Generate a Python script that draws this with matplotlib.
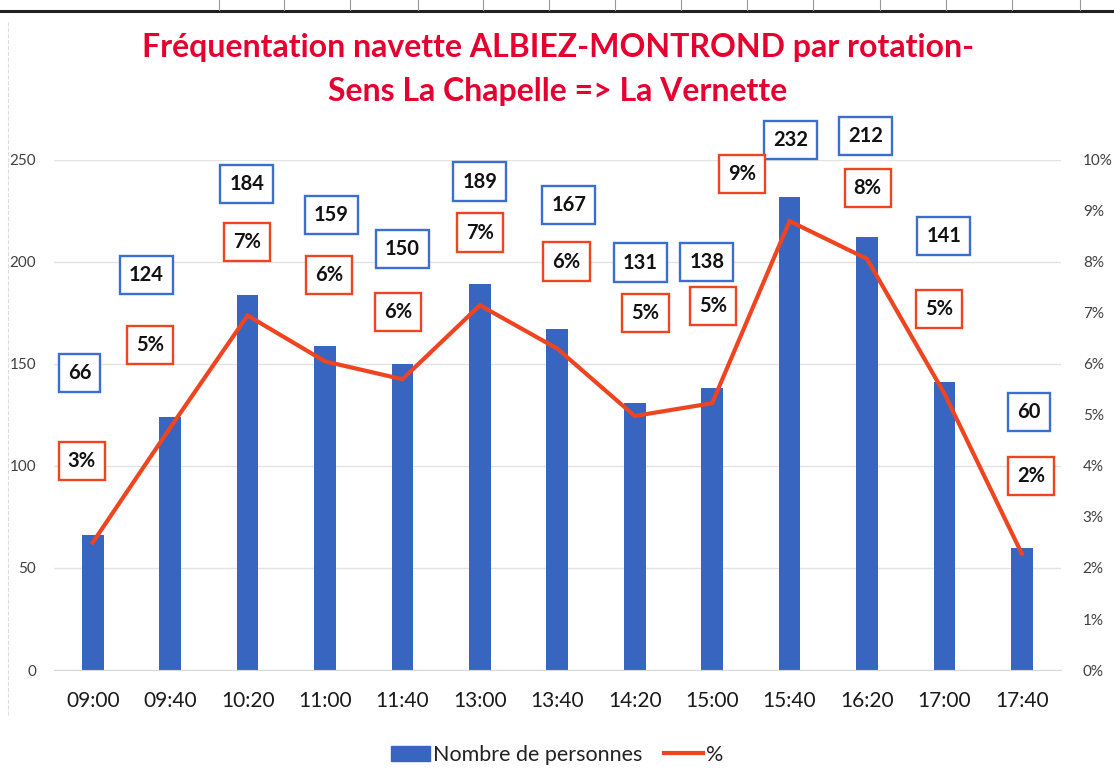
import numpy as np
import matplotlib.pyplot as plt
from matplotlib.lines import Line2D
from matplotlib.patches import Patch

plt.rcParams['font.family'] = ['Lato', 'DejaVu Sans']

# data
horaires = ['09:00', '09:40', '10:20', '11:00', '11:40', '13:00', '13:40',
            '14:20', '15:00', '15:40', '16:20', '17:00', '17:40']
personnes = [66, 124, 184, 159, 150, 189, 167, 131, 138, 232, 212, 141, 60]
pourcent = [2.5, 4.75, 6.95, 6.05, 5.7, 7.15, 6.3, 4.98, 5.23, 8.8, 8.06, 5.42, 2.28]
pourcent_labels = ['3%', '5%', '7%', '6%', '6%', '7%', '6%', '5%', '5%', '9%', '8%', '5%', '2%']

# where the (hand moved) data labels sit, in left axis units
count_dx = [-0.17, -0.31, -0.01, 0.08, 0.0, 0.0, 0.15, 0.07, -0.07, 0.01, -0.02, -0.01, 0.09]
count_y = [145.4, 193.6, 238.2, 223.0, 206.4, 239.4, 228.0, 199.7, 199.9, 259.8, 261.8, 212.7, 126.5]
pct_dx = [-0.14, -0.26, -0.01, 0.05, -0.06, 0.0, 0.12, 0.14, 0.01, -0.61, 0.01, -0.07, 0.12]
pct_y = [102.5, 159.3, 209.7, 193.6, 175.6, 214.4, 200.2, 175.1, 178.4, 243.0, 236.4, 177.0, 95.0]

BAR_COLOR = '#3765C0'
LINE_COLOR = '#EF4420'
TITLE_COLOR = '#E6002F'

fig = plt.figure(figsize=(11.14, 7.8), dpi=100)
ax = fig.add_axes([0.0485, 0.141, 0.9035, 0.654])
ax2 = ax.twinx()

x = np.arange(len(horaires))
ax.bar(x, personnes, width=0.28, color=BAR_COLOR, zorder=2)
ax2.plot(x, pourcent, color=LINE_COLOR, lw=3, solid_joinstyle='miter', zorder=3)

ax.set_xlim(-0.5, len(horaires) - 0.5)
ax.set_ylim(0, 250)
ax.set_yticks(np.arange(0, 251, 50))
ax2.set_ylim(0, 10)
ax2.set_yticks(np.arange(0, 11, 1))
ax2.set_yticklabels([f'{v}%' for v in range(11)])

ax.grid(axis='y', color='#e3e3e3', lw=1, zorder=0)
ax.set_axisbelow(True)
for a in (ax, ax2):
    for s in a.spines.values():
        s.set_visible(False)
ax.spines['bottom'].set_visible(True)
ax.spines['bottom'].set_color('#d9d9d9')

ax.set_xticks(x)
ax.set_xticklabels(horaires, fontsize=15, color='#1a1a1a')
ax.tick_params(axis='x', length=0, pad=15)
ax.tick_params(axis='y', length=0, pad=13, labelsize=11, labelcolor='#404040')
ax2.tick_params(axis='y', length=0, pad=16, labelsize=11, labelcolor='#404040')

# data labels in boxes
box_kw = dict(ha='center', va='center', fontsize=14.5, fontweight='bold',
              color='#111111', zorder=5)
for i in range(len(horaires)):
    ax.text(i + count_dx[i], count_y[i], str(personnes[i]),
            bbox=dict(boxstyle='square,pad=0.45', fc='white', ec='#3A6FD0', lw=1.7),
            **box_kw)
    ax.text(i + pct_dx[i], pct_y[i], pourcent_labels[i],
            bbox=dict(boxstyle='square,pad=0.45', fc='white', ec=LINE_COLOR, lw=1.7),
            **box_kw)

# title
fig.text(0.501, 1 - 48 / 780, 'Fréquentation navette ALBIEZ-MONTROND par rotation-',
         ha='center', va='center', fontsize=23, fontweight='bold', color=TITLE_COLOR)
fig.text(0.501, 1 - 92 / 780, 'Sens La Chapelle => La Vernette',
         ha='center', va='center', fontsize=23, fontweight='bold', color=TITLE_COLOR)

# legend
handles = [Patch(facecolor=BAR_COLOR, edgecolor=BAR_COLOR),
           Line2D([0], [0], color=LINE_COLOR, lw=3)]
fig.legend(handles, ['Nombre de personnes', '%'], loc='center', ncol=2,
           bbox_to_anchor=(0.5, 1 - 755 / 780), frameon=False, fontsize=15.5,
           handlelength=1.8, handleheight=0.7, handletextpad=0.15, columnspacing=1.0,
           labelcolor='#222222')

# spreadsheet border remains from the scan
fig.add_artist(Line2D([0, 1], [1 - 11 / 780, 1 - 11 / 780], color='#222222', lw=2.2))
for px in [219, 284, 350, 418, 483, 549, 615, 681, 747, 813, 880, 946, 1012, 1080]:
    fig.add_artist(Line2D([px / 1114, px / 1114], [1 - 10 / 780, 1.0], color='#999999', lw=0.8))
fig.add_artist(Line2D([8 / 1114, 8 / 1114], [1 - 715 / 780, 1 - 20 / 780],
                      color='#dddddd', lw=0.8, ls='--'))

fig.savefig('out.png', dpi=100)
